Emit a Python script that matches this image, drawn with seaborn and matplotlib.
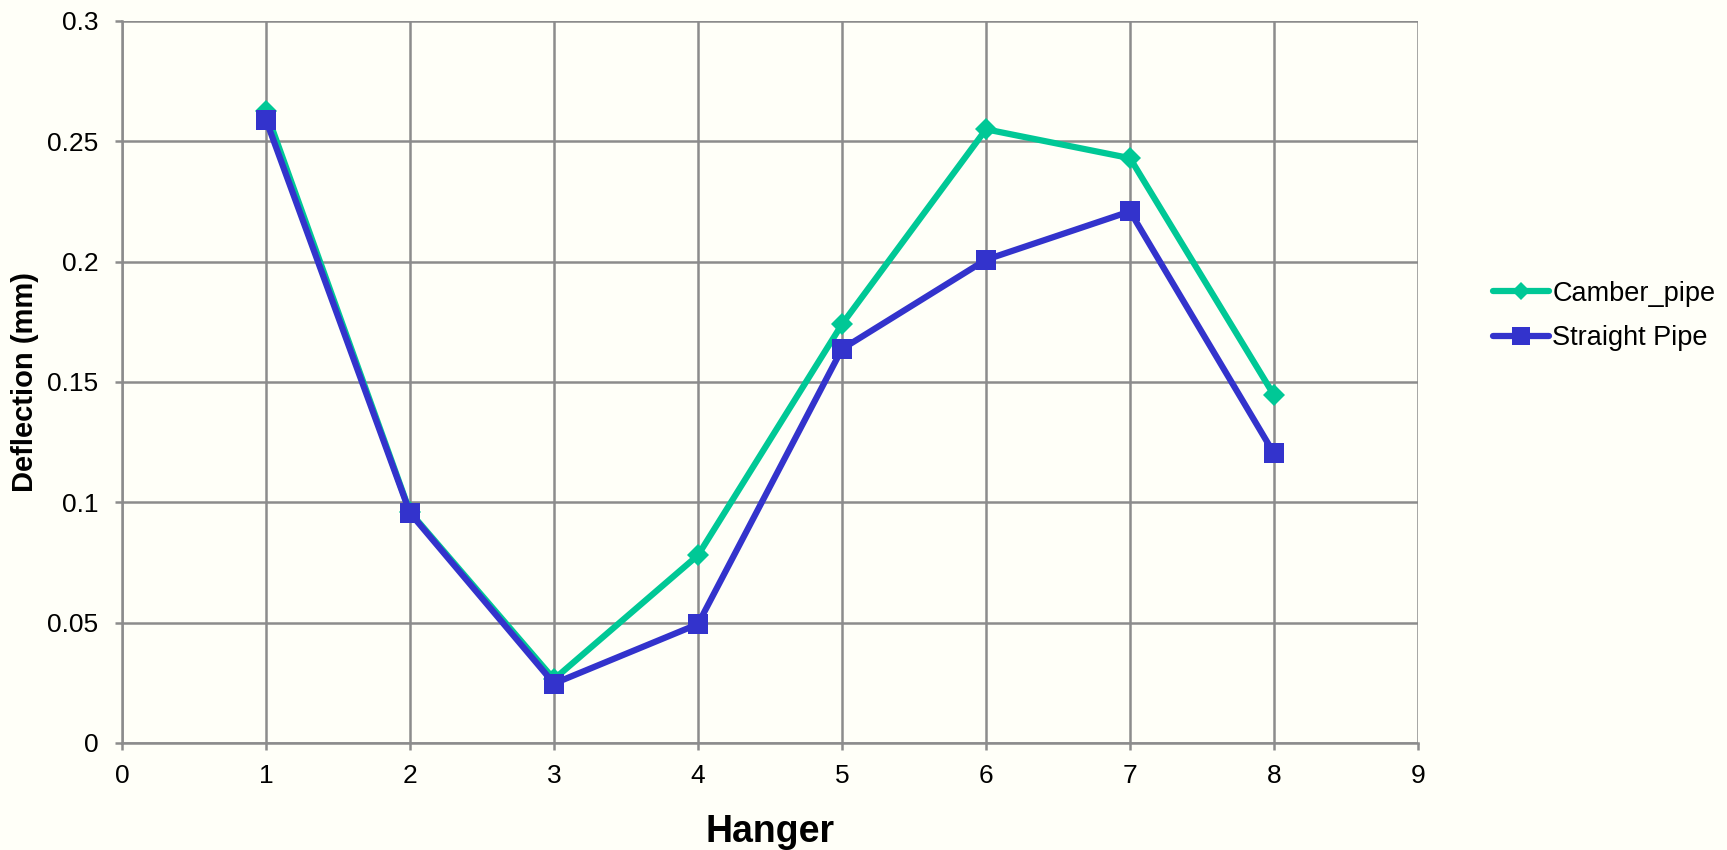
import numpy as np
import pandas as pd
import matplotlib
matplotlib.use("Agg")
import matplotlib.pyplot as plt
import seaborn as sns

# data
hanger = [1, 2, 3, 4, 5, 6, 7, 8]
camber_pipe = [0.2625, 0.096, 0.0265, 0.078, 0.174, 0.255, 0.243, 0.1445]
straight_pipe = [0.259, 0.0956, 0.0247, 0.0494, 0.1637, 0.2008, 0.2209, 0.1203]
series_names = ["Camber_pipe", "Straight Pipe"]
colors = ["#00C896", "#3333CC"]
markers = ["D", "s"]

df = pd.DataFrame({"Hanger": hanger * 2,
                   "Deflection": camber_pipe + straight_pipe,
                   "Series": [series_names[0]] * 8 + [series_names[1]] * 8})

sns.set_theme(style="white")
plt.rcParams['font.family'] = ['Liberation Sans', 'DejaVu Sans']
bg = "#FFFFF8"
grid_c = "#8C8C8C"

fig = plt.figure(figsize=(17.27, 8.5), dpi=100, facecolor=bg)
ax = fig.add_axes([0.0706, 0.1259, 0.7505, 0.8494], facecolor=bg)

sns.lineplot(data=df, x="Hanger", y="Deflection", hue="Series", style="Series",
             palette=colors, markers=markers, dashes=False, linewidth=4.5,
             markersize=15, markeredgewidth=0, ax=ax, legend=False, zorder=3)
# diamonds smaller than squares
for line, ms in zip(ax.get_lines(), [11, 15]):
    line.set_markersize(ms)

ax.set_xlim(0, 9)
ax.set_ylim(0, 0.3)
ax.set_xticks(range(0, 10))
ax.set_yticks([0, 0.05, 0.1, 0.15, 0.2, 0.25, 0.3])
ax.set_yticklabels(["0", "0.05", "0.1", "0.15", "0.2", "0.25", "0.3"])
ax.grid(True, color=grid_c, linewidth=1.8, zorder=0)
for s in ["top", "right"]:
    ax.spines[s].set_visible(False)
for s in ["left", "bottom"]:
    ax.spines[s].set_color(grid_c)
    ax.spines[s].set_linewidth(1.8)
ax.tick_params(axis="both", which="both", length=5, width=1.8, color=grid_c,
               labelsize=19, labelcolor="black", direction="out", left=True, bottom=True)
ax.tick_params(axis="y", pad=12)
ax.tick_params(axis="x", pad=10)
ax.set_axisbelow(True)

ax.set_xlabel("Hanger", fontsize=27, fontweight="bold", labelpad=19, color="black")
ax.set_ylabel("Deflection (mm)", fontsize=21, fontweight="bold", labelpad=6, color="black")

handles = [plt.Line2D([0], [0], color=c, marker=m, lw=4.5, ms=ms, mew=0)
           for c, m, ms in zip(colors, markers, [9, 13])]
leg = fig.legend(handles, series_names, loc="center left",
                 bbox_to_anchor=(1493 / 1727, 1 - 316 / 850),
                 frameon=False, fontsize=19.5, handlelength=2.07, handletextpad=0.12,
                 labelspacing=0.7, borderpad=0, borderaxespad=0, labelcolor="black")

fig.savefig("out.png", dpi=100, facecolor=bg)
